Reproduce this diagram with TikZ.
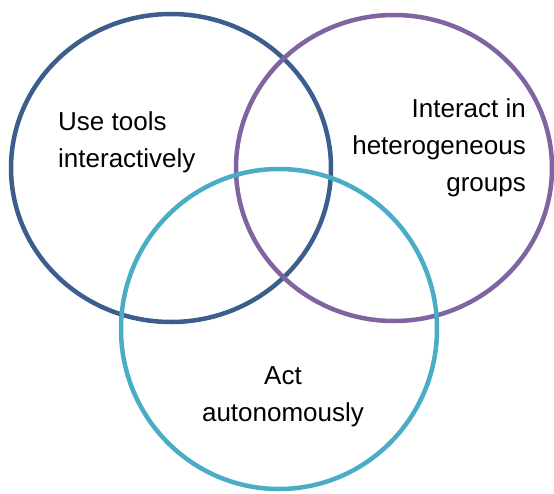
\documentclass[tikz,border=0pt]{standalone}
\usepackage{fontspec}
\setmainfont{Liberation Sans}
\usetikzlibrary{shapes.geometric}
\definecolor{cblue}{HTML}{3B5E8C}
\definecolor{cpurple}{HTML}{8064A2}
\definecolor{cteal}{HTML}{4BACC6}
\begin{document}
\begin{tikzpicture}[x=1pt,y=-1pt,
  ring/.style={ellipse,draw,line width=4.5pt,inner sep=0pt,fill=none},
  lbl/.style={inner sep=0pt,font=\fontsize{26}{37}\selectfont}]
\useasboundingbox (0,0) rectangle (554,493);
\node[ring,cblue,minimum width=320pt,minimum height=308pt] (tools) at (171,168) {};
\node[ring,cpurple,minimum width=316pt,minimum height=306pt] (groups) at (394,168) {};
\node[ring,cteal,minimum width=316pt,minimum height=320pt] (act) at (279,329) {};
\node[lbl,align=left,anchor=base west] (t1) at (58,167) {Use tools\\interactively};
\node[lbl,align=right,anchor=base east] (t2) at (526,191) {Interact in\\heterogeneous\\groups};
\node[lbl,align=center,anchor=base] (t3) at (283,421) {Act\\autonomously};
\end{tikzpicture}
\end{document}
